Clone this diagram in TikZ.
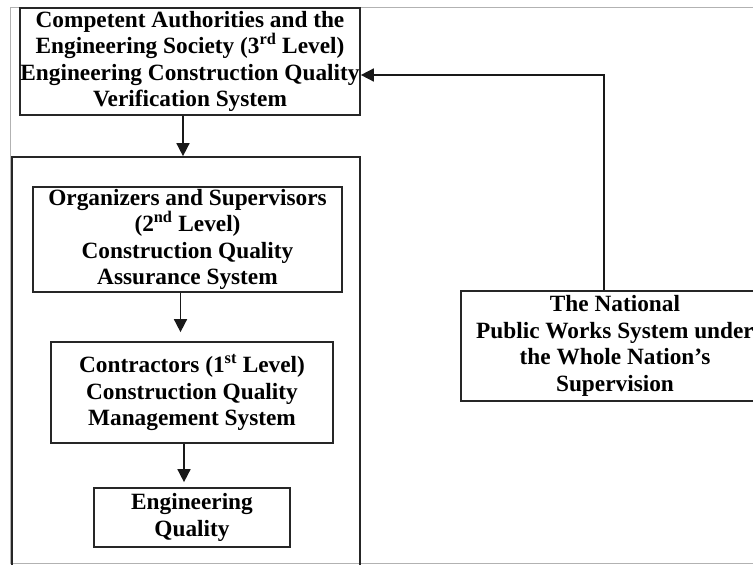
\documentclass[tikz,border=0pt]{standalone}
\usepackage{fontspec}
\setmainfont{Liberation Serif}
\usetikzlibrary{arrows.meta}
\tikzset{
  box/.style={draw=black!85, line width=1.7pt, rectangle, inner sep=0pt, align=center,
    font=\fontsize{23.3}{26.5}\selectfont\bfseries, text=black},
  arr/.style={draw=black!90, line width=1.6pt, -{Triangle[length=13pt,width=13pt]}},
  pageframe/.style={draw=black!30, line width=1pt}
}
\begin{document}
\begin{tikzpicture}[x=1pt,y=-1pt]
\clip (0,0) rectangle (753,565);
\fill[white] (0,0) rectangle (753,565);
\draw[pageframe] (10,7) rectangle (780,563);
\node[box, minimum width=340pt, minimum height=107pt] (top) at (190,61.5)
  {Competent Authorities and the\\Engineering Society (3\textsuperscript{rd} Level)\\Engineering Construction Quality\\Verification System};
\node[box, minimum width=348pt, minimum height=420pt] (frame) at (186,367) {};
\node[box, minimum width=309pt, minimum height=105pt] (org) at (187.5,239.5)
  {Organizers and Supervisors\\(2\textsuperscript{nd} Level)\\Construction Quality\\Assurance System};
\node[box, minimum width=282pt, minimum height=101pt] (con) at (192,392.5)
  {Contractors (1\textsuperscript{st} Level)\\Construction Quality\\Management System};
\node[box, minimum width=196pt, minimum height=59pt] (eq) at (192,517.5)
  {Engineering\\Quality};
\node[box, minimum width=308pt, minimum height=110pt] (nat) at (615,346)
  {The National\\Public Works System under\\the Whole Nation’s\\Supervision};
\coordinate (bend) at (604,75);
\draw[arr] ([xshift=-7pt]top.south) -- ([xshift=-7pt]top.south |- frame.north);
\draw[arr, shorten >=9pt] ([xshift=-7pt]org.south) -- ([xshift=-7pt]org.south |- con.north);
\draw[arr, shorten >=5pt] ([xshift=-8pt]con.south) -- ([xshift=-8pt]con.south |- eq.north);
\draw[arr] ([xshift=-11pt]nat.north) -- (bend) -- (bend -| top.east);
\end{tikzpicture}
\end{document}
